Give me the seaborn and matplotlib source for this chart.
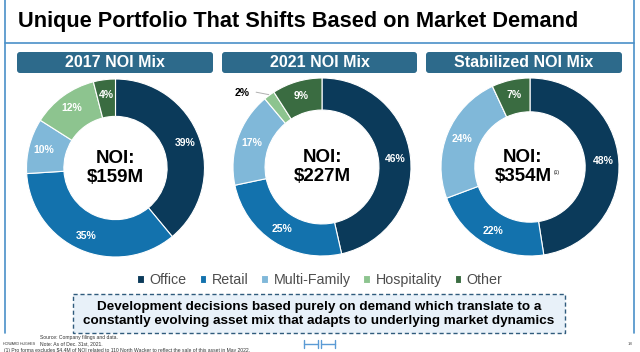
import numpy as np
import matplotlib.pyplot as plt
import seaborn as sns
from matplotlib.patches import FancyBboxPatch, Rectangle

# Dữ liệu cơ cấu NOI (%)
categories = ['Office', 'Retail', 'Multi-Family', 'Hospitality', 'Other']
mix_2017 = [39, 35, 10, 12, 4]
mix_2021 = [46, 25, 17, 2, 9]
mix_stabilized = [48, 22, 24, 0, 7]
panel_titles = ['2017 NOI Mix', '2021 NOI Mix', 'Stabilized NOI Mix']
noi_totals = ['$159M', '$227M', '$354M']

colors = ['#0b3a5a', '#1372ad', '#80b8d9', '#8dc48f', '#3a6c41']
frame_blue = '#4a90c8'
bar_blue = '#2d6a8b'

sns.set_theme(style='white')
plt.rcParams['font.family'] = ['Liberation Sans', 'DejaVu Sans']

W, H = 640, 352
fig = plt.figure(figsize=(W / 100, H / 100), dpi=100)
fig.patch.set_facecolor('white')

# Nền: toạ độ pixel
bg = fig.add_axes([0, 0, 1, 1])
bg.set_xlim(0, W)
bg.set_ylim(H, 0)
bg.axis('off')

bg.plot([5, 5], [0, 333], color=frame_blue, lw=1.2)
bg.plot([634, 634], [0, 333], color=frame_blue, lw=1.2)
bg.plot([5, 634], [43, 43], color=frame_blue, lw=1.2)

bg.text(18, 21, 'Unique Portfolio That Shifts Based on Market Demand',
        fontsize=15.7, fontweight='bold', color='black', va='center', ha='left')

# Thanh tiêu đề của từng biểu đồ
bars_x = [(17, 213), (222, 417), (426, 622)]
for (x0, x1), title in zip(bars_x, panel_titles):
    bg.add_patch(FancyBboxPatch((x0, 52), x1 - x0, 21,
                                boxstyle='round,pad=0,rounding_size=3',
                                fc=bar_blue, ec='none'))
    bg.text((x0 + x1) / 2, 62.5, title, color='white', fontsize=11.5,
            fontweight='bold', ha='center', va='center')

# Biểu đồ donut
centers = [(115.5, 168), (322, 167), (530, 167)]
radius_px = 89
ring_width = [0.42, 0.36, 0.38]
noi_dx = [0, 0, -0.08]
all_mix = [mix_2017, mix_2021, mix_stabilized]
R = 110
legend_handles = None
for i, ((cx, cy), vals) in enumerate(zip(centers, all_mix)):
    ax = fig.add_axes([(cx - R) / W, 1 - (cy + R) / H, 2 * R / W, 2 * R / H])
    wedges, _ = ax.pie(vals, colors=colors, startangle=90, counterclock=False,
                       radius=1, wedgeprops=dict(width=ring_width[i],
                                                 edgecolor='white', linewidth=0.8))
    lim = R / radius_px
    ax.set_xlim(-lim, lim)
    ax.set_ylim(-lim, lim)
    ax.axis('off')
    if legend_handles is None:
        legend_handles = wedges
    for w, v in zip(wedges, vals):
        if v == 0:
            continue
        th = np.deg2rad((w.theta1 + w.theta2) / 2)
        if v < 3:
            # nhãn bên ngoài với đường dẫn
            th2 = th + np.deg2rad(11)
            ax.plot([1.01 * np.cos(th), 1.12 * np.cos(th + np.deg2rad(5))],
                    [1.01 * np.sin(th), 1.12 * np.sin(th + np.deg2rad(5))],
                    color='#b0b0b0', lw=0.7)
            ax.text(1.22 * np.cos(th2), 1.22 * np.sin(th2), f'{v}%',
                    color='black', fontsize=7.5, fontweight='bold',
                    ha='center', va='center')
        else:
            ax.text(0.83 * np.cos(th), 0.83 * np.sin(th), f'{v}%',
                    color='white', fontsize=7.5, fontweight='bold',
                    ha='center', va='center')
    ax.text(noi_dx[i], 0, 'NOI:\n' + noi_totals[i].replace('$', r'\$'),
            fontsize=13.5, fontweight='bold', color='black',
            ha='center', va='center', linespacing=1.15)
    if i == 2:
        ax.text(0.3, -0.06, '(1)', fontsize=3.5, color='black',
                ha='center', va='center')

# Chú thích
fig.legend(legend_handles, categories, loc='center', ncol=5,
           bbox_to_anchor=(0.5, 1 - 280 / H), frameon=False, fontsize=10.3,
           labelcolor='#4d4d4d', handlelength=0.45, handleheight=0.45,
           handletextpad=0.4, columnspacing=0.9)

# Hộp nét đứt
bg.add_patch(Rectangle((73, 294), 492, 39, fc='#e8f1f9', ec='#2f5b7c',
                       ls=(0, (3, 2)), lw=1.0))
bg.text(319, 314, 'Development decisions based purely on demand which translate to a\n'
        'constantly evolving asset mix that adapts to underlying market dynamics',
        fontsize=9.7, fontweight='bold', color='black', ha='center', va='center',
        linespacing=1.2)

# Chân trang
bg.text(40, 337.5, 'Source: Company filings and data.', fontsize=3.6, color='#333333',
        va='center')
bg.text(3, 344, 'HOWARD HUGHES', fontsize=2.6, color='#333333', va='center')
bg.text(40, 344, 'Note: As of Dec. 31st, 2021.', fontsize=3.6, color='#333333',
        va='center')
bg.text(4, 350.5, r'(1) Pro forma excludes \$4.4M of NOI related to 110 North Wacker to '
        'reflect the sale of this asset in May 2022.', fontsize=3.6,
        color='#333333', va='center')
bg.text(628, 344, '18', fontsize=3.2, color='#555555', va='center')

logo_blue = '#5b9bd5'
for x0 in (304, 321):
    bg.plot([x0, x0], [340, 348], color=logo_blue, lw=1)
    bg.plot([x0 + 14, x0 + 14], [340, 348], color=logo_blue, lw=1)
    bg.plot([x0, x0 + 14], [344, 344], color=logo_blue, lw=1)

fig.savefig('out.png', dpi=100)
